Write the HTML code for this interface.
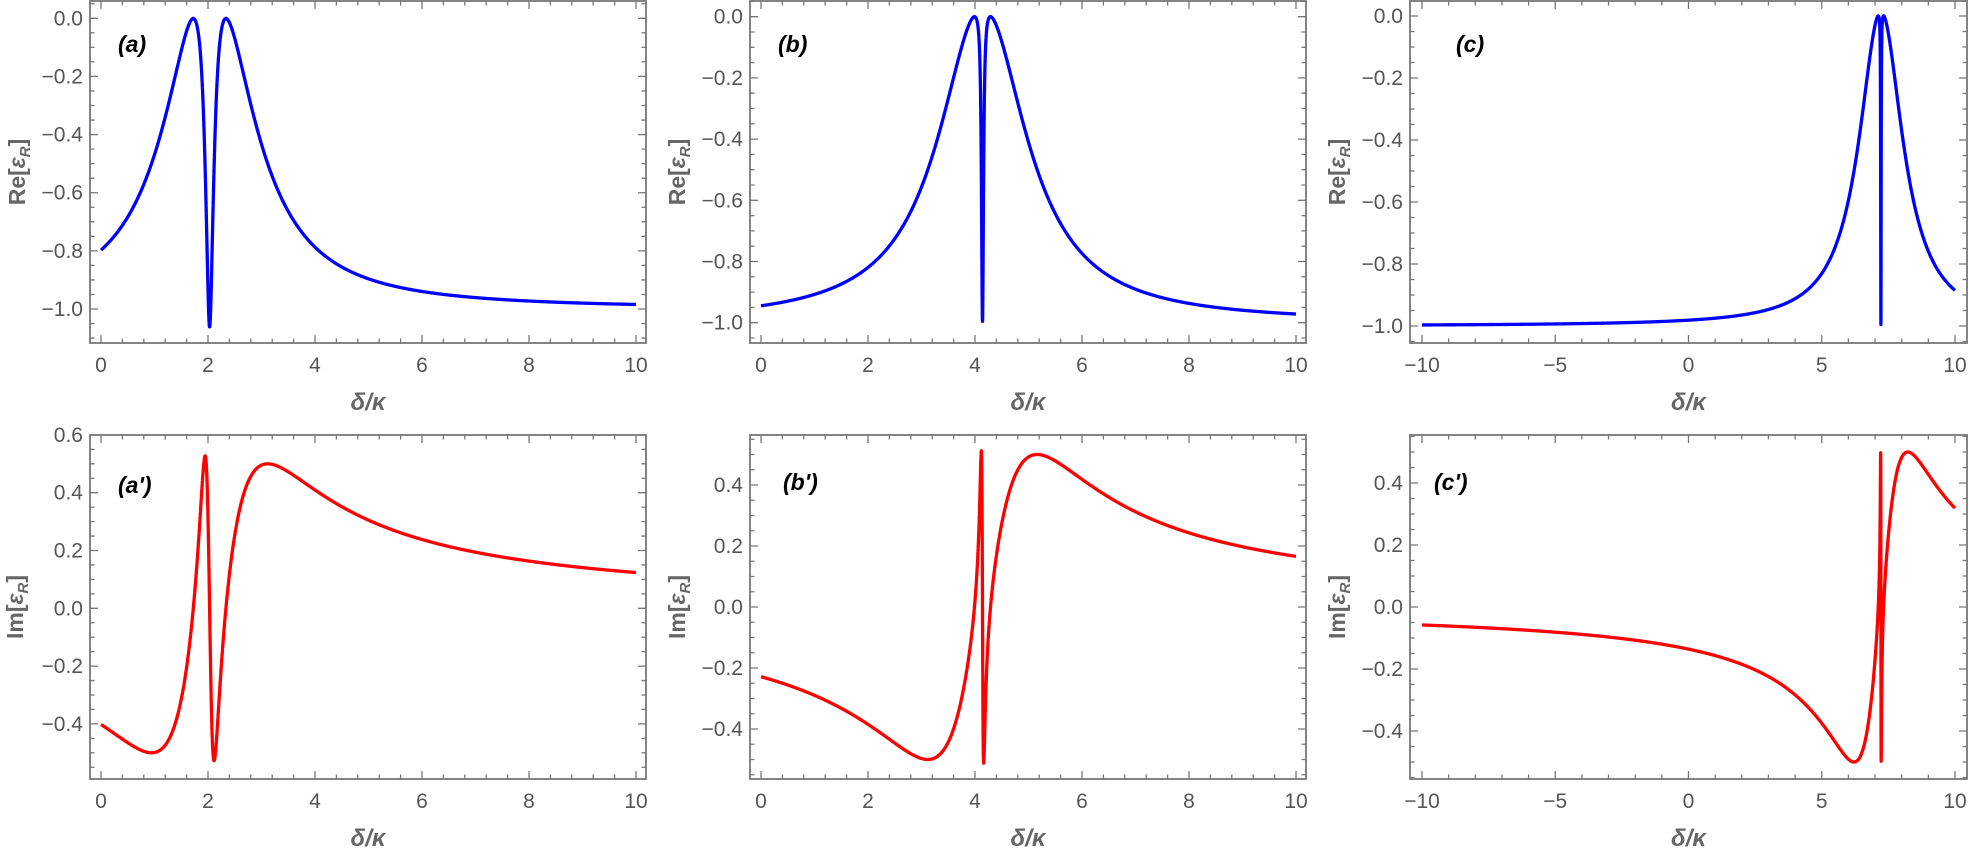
<!DOCTYPE html>
<html><head><meta charset="utf-8">
<style>
html,body{margin:0;padding:0;background:#fff;}
svg{display:block;}
text{font-family:"Liberation Sans",sans-serif;}
</style></head>
<body>
<svg id="s" width="1969" height="853" viewBox="0 0 1969 853" xmlns="http://www.w3.org/2000/svg"></svg>
<script>
const S=document.getElementById('s');
const NS='http://www.w3.org/2000/svg';
function el(t,a,txt){const e=document.createElementNS(NS,t);for(const k in a)e.setAttribute(k,a[k]);if(txt!==undefined)e.textContent=txt;S.appendChild(e);return e;}
function fmt(v,d){let s=Math.abs(v)<1e-9?(0).toFixed(d):v.toFixed(d);return s.replace('-','\u2212');}
function resp(d,p){
  const D=d-p.dc, Dm=d-p.dm;
  const den=p.g*p.g+Dm*Dm;
  const re=p.A+p.G*p.g/den, im=-D+p.G*Dm/den;
  const m=re*re+im*im;
  let R=-1+p.A*re/m, I=-p.A*im/m;
  if(p.extra) R+=p.extra*Math.exp(-Math.pow(Dm/0.035,2));
  if(p.iscale) I*=1+p.iscale*Math.exp(-Math.pow(Dm/0.15,2));
  return [R,I];
}
const panels=[
 {fl:90,fr:646,ft:1,fb:343,x0:101,xs:53.5,xv0:0,y0:18.3,ys:290.7,xmaj:2,xmin:0.4,ymaj:0.2,ymin:0.05,xmin_v:0,xmax_v:10,lab:'(a)',lx:118,ly:52,yl:'Re',ylx:17,part:0,color:'#0000ff',p:{A:1,dc:2.03,dm:2.03,G:0.093,g:0.0008,extra:-0.07}},
 {fl:750,fr:1306,ft:1,fb:343,x0:761,xs:53.5,xv0:0,y0:16.7,ys:306,xmaj:2,xmin:0.4,ymaj:0.2,ymin:0.05,xmin_v:0,xmax_v:10,lab:'(b)',lx:778,ly:52,yl:'Re',ylx:677,part:0,color:'#0000ff',p:{A:1,dc:4.14,dm:4.14,G:0.0225,g:0.0001}},
 {fl:1410,fr:1967,ft:1,fb:343,x0:1422,xs:26.65,xv0:-10,y0:16,ys:310,xmaj:5,xmin:1,ymaj:0.2,ymin:0.05,xmin_v:-10,xmax_v:10,lab:'(c)',lx:1456,ly:52,yl:'Re',ylx:1337,part:0,color:'#0000ff',p:{A:1,dc:7.22,dm:7.22,G:0.01,g:0.00005}},
 {fl:90,fr:646,ft:435,fb:779,x0:101,xs:53.5,xv0:0,y0:608.3,ys:289,xmaj:2,xmin:0.4,ymaj:0.2,ymin:0.05,xmin_v:0,xmax_v:10,lab:"(a')",lx:118,ly:493,yl:'Im',ylx:15,part:1,color:'#ff0000',p:{A:1,dc:2.03,dm:2.03,G:0.093,g:0.0008,iscale:0.09}},
 {fl:750,fr:1306,ft:435,fb:779,x0:761,xs:53.5,xv0:0,y0:607,ys:305,xmaj:2,xmin:0.4,ymaj:0.2,ymin:0.05,xmin_v:0,xmax_v:10,lab:"(b')",lx:783,ly:490,yl:'Im',ylx:677,part:1,color:'#ff0000',p:{A:1,dc:4.14,dm:4.14,G:0.0225,g:0.0001,iscale:0.03}},
 {fl:1410,fr:1967,ft:435,fb:779,x0:1422,xs:26.65,xv0:-10,y0:607,ys:310,xmaj:5,xmin:1,ymaj:0.2,ymin:0.05,xmin_v:-10,xmax_v:10,lab:"(c')",lx:1434,ly:490,yl:'Im',ylx:1337,part:1,color:'#ff0000',p:{A:1,dc:7.22,dm:7.22,G:0.01,g:0.00005}},
];
for(const P of panels){
  const X=v=>P.x0+(v-P.xv0)*P.xs, Y=v=>P.y0-v*P.ys;
  const vx0=P.xv0+(P.fl-P.x0)/P.xs, vx1=P.xv0+(P.fr-P.x0)/P.xs;
  const vyT=(P.y0-P.ft)/P.ys+0.01, vyB=(P.y0-P.fb)/P.ys;
  let g='';
  for(let k=Math.ceil(vx0/P.xmin-1e-6);k*P.xmin<=vx1+1e-6;k++){
    const v=k*P.xmin, x=X(v); const maj=Math.abs(v/P.xmaj-Math.round(v/P.xmaj))<1e-6;
    const L=maj?8:4.5;
    g+=`M${x},${P.fb}v${-L}M${x},${P.ft}v${L}`;
    if(maj) el('text',{x:x,y:P.fb+29,'text-anchor':'middle','font-size':21,fill:'#555'},fmt(v,0));
  }
  for(let k=Math.ceil(vyB/P.ymin-1e-6);k*P.ymin<=vyT+1e-6;k++){
    const v=k*P.ymin, y=Math.max(Y(v),P.ft); const maj=Math.abs(v/P.ymaj-Math.round(v/P.ymaj))<1e-6;
    const L=maj?8:4.5;
    g+=`M${P.fl},${y}h${L}M${P.fr},${y}h${-L}`;
    if(maj) el('text',{x:P.fl-7,y:y+7,'text-anchor':'end','font-size':21,fill:'#555'},fmt(v,1));
  }
  el('path',{d:g,stroke:'#777','stroke-width':1.3,fill:'none'});
  el('rect',{x:P.fl,y:P.ft,width:P.fr-P.fl,height:P.fb-P.ft,fill:'none',stroke:'#777','stroke-width':1.8});
  let xs=[];
  const N=3000;
  for(let i=0;i<=N;i++)xs.push(P.xmin_v+(P.xmax_v-P.xmin_v)*i/N);
  for(let i=0;i<=6000;i++)xs.push(P.p.dm-0.6+1.2*i/6000);
  for(let i=0;i<=4000;i++)xs.push(P.p.dm-0.01+0.02*i/4000);
  xs=xs.filter(v=>v>=P.xmin_v&&v<=P.xmax_v).sort((a,b)=>a-b);
  let d='';
  xs.forEach((v,i)=>{const r=resp(v,P.p)[P.part];d+=(i?'L':'M')+X(v).toFixed(2)+','+Y(r).toFixed(2);});
  el('path',{d:d,stroke:P.color,'stroke-width':3.3,fill:'none','stroke-linejoin':'round'});
  el('text',{x:P.lx,y:P.ly,'font-size':23,'font-weight':'bold','font-style':'italic',fill:'#000'},P.lab);
  el('text',{x:(P.fl+P.fr)/2,y:P.fb+67,'text-anchor':'middle','font-size':24,'font-weight':'bold','font-style':'italic',fill:'#666'},'\u03b4/\u03ba');
  const cy=(P.ft+P.fb)/2;
  const t=el('text',{x:P.ylx,y:cy,'text-anchor':'middle','font-size':23,'font-weight':'bold',fill:'#666',transform:`rotate(-90 ${P.ylx} ${cy}) translate(0 8)`});
  t.innerHTML=`${P.yl}[<tspan font-style="italic">\u03b5</tspan><tspan font-style="italic" font-size="15" dy="5">R</tspan><tspan dy="-5">]</tspan>`;
}
</script>
</body></html>
